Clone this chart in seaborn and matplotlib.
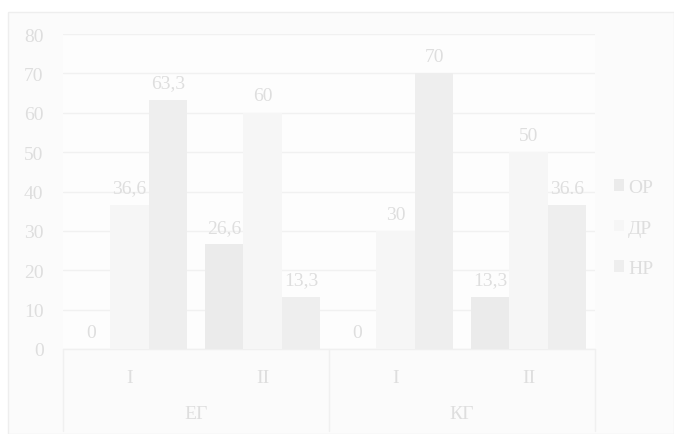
import matplotlib
matplotlib.use("Agg")
import matplotlib.pyplot as plt
import seaborn as sns
import pandas as pd
from matplotlib.patches import Rectangle
from matplotlib.lines import Line2D

groups = ["ЕГ", "ЕГ", "КГ", "КГ"]
stages = ["I", "II", "I", "II"]
series = ["ОР", "ДР", "НР"]
op_vals = [0, 26.6, 0, 13.3]
dr_vals = [36.6, 60, 30, 50]
nr_vals = [63.3, 13.3, 70, 36.6]
op_labels = ["0", "26,6", "0", "13,3"]
dr_labels = ["36,6", "60", "30", "50"]
nr_labels = ["63,3", "13,3", "70", "36.6"]
y_ticks = [0, 10, 20, 30, 40, 50, 60, 70, 80]

colors = ["#ebebeb", "#f6f6f6", "#eeeeee"]
text_c = "#dedede"
grid_c = "#f1f1f1"
fs = 14

sns.set_style("white")
plt.rcParams["font.family"] = ["Liberation Serif", "DejaVu Serif"]

slots = [f"{g}-{s}" for g, s in zip(groups, stages)]
rows = []
for i, sl in enumerate(slots):
    for name, vals in zip(series, [op_vals, dr_vals, nr_vals]):
        rows.append({"slot": sl, "series": name, "value": vals[i]})
df = pd.DataFrame(rows)

fig = plt.figure(figsize=(6.74, 4.35), dpi=100)
fig.patch.set_facecolor("white")
fig.add_artist(Rectangle((8 / 674, 0), 1 - 8 / 674, 1 - 13 / 435, transform=fig.transFigure,
                         facecolor="#fbfbfb", edgecolor="#eeeeee", lw=1, zorder=-10))
ax = fig.add_axes([63 / 674, 1 - 350 / 435, (595 - 63) / 674, (350 - 35) / 435])
ax.set_facecolor("#fdfdfd")

sns.barplot(data=df, x="slot", y="value", hue="series", order=slots, hue_order=series,
            palette=colors, width=0.87, saturation=1, ax=ax, legend=False, zorder=3,
            linewidth=0, edgecolor="none")

ax.set_ylim(0, 80)
ax.set_xlim(-0.5, 3.5)
ax.set_yticks(y_ticks)
ax.set_yticklabels([str(t) for t in y_ticks], color=text_c, fontsize=fs)
ax.tick_params(axis="y", length=0, pad=14)
ax.set_xticks([])
ax.set_xlabel("")
ax.set_ylabel("")
for sp in ax.spines.values():
    sp.set_visible(False)
ax.grid(axis="y", color=grid_c, lw=1, zorder=0)

# value labels
all_labels = [op_labels, dr_labels, nr_labels]
for cont, labs in zip(ax.containers, all_labels):
    ax.bar_label(cont, labels=labs, padding=6, color=text_c, fontsize=fs)

# category axis
ax.add_line(Line2D([0, 1], [0, 0], transform=ax.transAxes, color="#f0f0f0", lw=1, clip_on=False))
for xv in [-0.5, 1.5, 3.5]:
    ax.plot([xv, xv], [0, -0.26], transform=ax.get_xaxis_transform(), color="#f0f0f0",
            lw=1, clip_on=False)
for i, s in enumerate(stages):
    ax.text(i, -0.09, s, transform=ax.get_xaxis_transform(), ha="center", va="center",
            color=text_c, fontsize=fs)
for gi, g in enumerate(["ЕГ", "КГ"]):
    ax.text(gi * 2 + 0.5, -0.205, g, transform=ax.get_xaxis_transform(), ha="center",
            va="center", color=text_c, fontsize=fs)

handles = [Rectangle((0, 0), 1, 1, facecolor=c, edgecolor="none") for c in colors]
leg = fig.legend(handles, series, loc="center left", bbox_to_anchor=(596 / 674, 1 - 229 / 435),
                 frameon=False, fontsize=fs, labelspacing=1.2, handlelength=0.55,
                 handleheight=0.55, handletextpad=0.2)
for t in leg.get_texts():
    t.set_color(text_c)

fig.savefig("out.png", dpi=100, facecolor=fig.get_facecolor())
